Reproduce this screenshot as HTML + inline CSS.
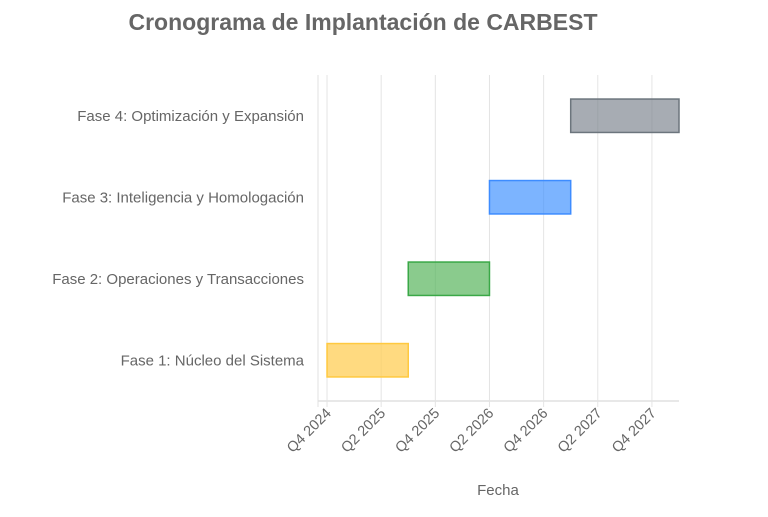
<!DOCTYPE html>
<html><head><meta charset="utf-8"><style>
body{margin:0;background:#fff;width:768px;height:512px;overflow:hidden;font-family:"Liberation Sans",sans-serif}
svg text{font-family:"Liberation Sans",sans-serif}
</style></head><body>
<svg id="chart" width="768" height="512">
<text x="363" y="30" text-anchor="middle" font-size="23" font-weight="bold" fill="#666">Cronograma de Implantación de CARBEST</text>
<g id="grid"></g><g id="bars"></g><g id="labels"></g>
<text x="498" y="495" text-anchor="middle" font-size="15" fill="#666">Fecha</text>
</svg>
<script>
const phases=["Fase 1: Núcleo del Sistema","Fase 2: Operaciones y Transacciones","Fase 3: Inteligencia y Homologación","Fase 4: Optimización y Expansión"];
const starts=["2024-10","2025-07","2026-04","2027-01"];
const ends=["2025-07","2026-04","2027-01","2028-01"];
const tickDates=["2024-10","2025-04","2025-10","2026-04","2026-10","2027-04","2027-10"];
const tickLabels=["Q4 2024","Q2 2025","Q4 2025","Q2 2026","Q4 2026","Q2 2027","Q4 2027"];
const fills=["rgba(255,205,86,0.75)","rgba(75,175,80,0.65)","rgba(54,140,255,0.65)","rgba(120,128,138,0.65)"];
const strokes=["#ffc940","#3aa847","#3d8cff","#6c757d"];
const NS="http://www.w3.org/2000/svg";
const L=318,R=679,T=75,B=401;
const mi=s=>{const[y,m]=s.split("-").map(Number);return y*12+m-1;};
const d0=mi("2024-09"),d1=mi("2028-01");
const x=s=>L+(mi(s)-d0)/(d1-d0)*(R-L);
const band=(B-T)/phases.length;
const y=i=>B-band*(i+0.5);
function mk(tag,at,parent){const e=document.createElementNS(NS,tag);for(const k in at)e.setAttribute(k,at[k]);document.getElementById(parent).appendChild(e);return e;}
const g1=mk("line",{x1:L,x2:L,y1:T,y2:B+6,stroke:"#e0e0e0","stroke-width":1},"grid");


const g2=mk("line",{x1:L,x2:R,y1:B,y2:B,stroke:"#e0e0e0","stroke-width":1.5},"grid");


tickDates.forEach((d,i)=>{const xx=x(d);
const gl=mk("line",{x1:xx,x2:xx,y1:T,y2:B+6,stroke:"#e4e4e4","stroke-width":1},"grid");


const t=mk("text",{x:xx+5,y:B+13,"text-anchor":"end","font-size":14.5,fill:"#666",transform:`rotate(-45 ${xx+5} ${B+13})`},"labels");
t.textContent=tickLabels[i];

});
phases.forEach((p,i)=>{const x0=x(starts[i]),x1=x(ends[i]),h=band*0.41;
const r=mk("rect",{x:x0,y:y(i)-h/2,width:x1-x0,height:h,fill:fills[i],stroke:strokes[i],"stroke-width":1.5},"bars");


const t=mk("text",{x:L-14,y:y(i)+5,"text-anchor":"end","font-size":15,fill:"#666"},"labels");
t.textContent=p;

});
</script>
</body></html>
